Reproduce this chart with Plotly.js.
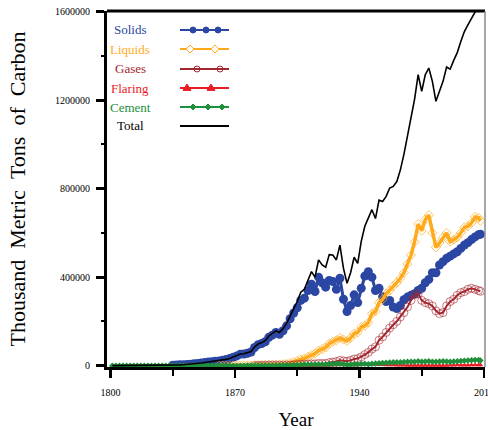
<!DOCTYPE html>
<html>
<head>
<meta charset="utf-8">
<script src="https://cdn.plot.ly/plotly-3.0.1.min.js"></script>
<style>html,body{margin:0;padding:0;background:#fff;}#chart{width:488px;height:430px;}</style>
</head>
<body>
<div id="chart"></div>
<script>
// ---- data (thousand metric tons of carbon) ----
const years = [
1801,1803,1805,1807,1809, 1811,1813,1815,1817,1819, 1821,1823,1825,1827,1829,
1831,1833,1835,1837,1839, 1841,1843,1845,1847,1849, 1851,1853,1855,1857,1859,
1861,1863,1865,1867,1869, 1871,1873,1875,1877,1879, 1881,1883,1885,1887,1889,
1891,1893,1895,1897,1899, 1901,1903,1905,1907,1909, 1911,1913,1915,1917,1919,
1921,1923,1925,1927,1929, 1931,1933,1935,1937,1939, 1941,1943,1945,1947,1949,
1951,1953,1955,1957,1959, 1961,1963,1965,1967,1969, 1971,1973,1975,1977,1979,
1981,1983,1985,1987,1989, 1991,1993,1995,1997,1999, 2001,2003,2005,2007,2008];

const solids = [
null,null,null,null,null, null,null,null,null,null, null,null,null,null,null,
null,null,2400,3000,3700, 4500,5500,6800,8200,10000, 12000,14000,16500,18000,20000,
21000,24000,28000,32000,38000, 44000,52000,53000,56000,62000, 82000,95000,100000,108000,128000,
138000,150000,142000,158000,180000, 212000,238000,262000,295000,305000, 340000,368000,335000,400000,375000,
355000,385000,380000,345000,395000, 300000,245000,272000,320000,285000, 350000,405000,425000,400000,340000,
350000,312000,290000,295000,265000, 258000,272000,298000,310000,318000, 325000,340000,350000,375000,390000,
420000,420000,455000,470000,485000, 495000,505000,515000,530000,545000, 556000,570000,582000,592000,594000];

const liquids = [
null,null,null,null,null, null,null,null,null,null, null,null,null,null,null,
null,null,null,null,null, null,null,null,null,null, null,null,null,null,null,
100,200,300,400,500, 700,900,1100,1300,1600, 2000,2400,2800,3200,3800,
4500,5000,5800,6500,8000, 12000,16000,22000,28000,33000, 40000,48000,55000,68000,75000,
82000,100000,108000,115000,125000, 118000,112000,125000,145000,150000, 175000,180000,195000,235000,245000,
285000,300000,325000,340000,360000, 375000,395000,420000,460000,500000, 560000,640000,610000,660000,680000,
600000,535000,555000,580000,600000, 560000,570000,580000,600000,625000, 630000,645000,672000,668000,655000];

const gases = [
null,null,null,null,null, null,null,null,null,null, null,null,null,null,null,
null,null,null,null,null, null,null,null,null,null, null,null,null,null,null,
null,null,null,null,null, null,null,null,null,null, 500,1000,1500,2000,2500,
2500,2500,2500,2800,3000, 3000,4000,5000,6500,7000, 7500,8000,8500,10000,10000,
10000,14000,16000,19000,24000, 22000,20000,24000,30000,32000, 40000,50000,60000,75000,85000,
115000,130000,150000,170000,185000, 200000,220000,240000,265000,295000, 320000,325000,295000,285000,280000,
270000,248000,235000,240000,270000, 290000,300000,318000,330000,335000, 345000,350000,345000,340000,336000];

const flaring = [
0,0,0,0,0, 0,0,0,0,0, 0,0,0,0,0,
0,0,0,0,0, 0,0,0,0,0, 0,0,0,0,0,
0,0,0,0,0, 0,0,0,0,0, 0,0,0,0,0,
0,0,0,0,0, 200,300,400,500,600, 800,1000,1200,1500,1800,
2000,2500,3000,3500,4000, 3000,2500,3000,3500,3500, 4000,4500,5000,5000,5000,
4500,4000,3500,3000,2500, 2000,1800,1500,1200,1000, 1000,900,700,600,500,
400,400,400,500,600, 1500,2000,2500,2000,2000, 2000,2500,2500,2800,2800];

const cement = [
0,0,0,0,0, 0,0,0,0,0, 0,0,0,0,0,
0,0,0,0,0, 0,0,0,0,0, 0,0,0,0,0,
0,0,0,0,0, 100,150,200,250,300, 400,500,600,700,800,
900,1000,1200,1500,1800, 2200,2800,3500,4200,5000, 5500,5800,5500,5800,5000,
5500,7000,8000,8500,8500, 7000,4500,5000,6000,6500, 8000,9000,6000,8500,10000,
11000,12000,13500,14000,15500, 15000,16000,17000,17500,18000, 17500,20000,18000,19000,20000,
18000,17500,19000,19500,19000, 17500,19000,20500,21500,22500, 23000,24000,25500,26000,23000];

const total = [
200,230,260,290,320, 360,400,450,500,560, 630,720,850,1000,1200,
1500,1900,2400,3000,3700, 4500,5500,6800,8200,10000, 12000,14000,16500,18000,20000,
21100,24200,28300,32400,38500, 44800,53000,54200,57500,63800, 84500,98400,104300,113200,134300,
145000,157500,150300,167300,191000, 228000,258000,290000,332000,345000, 388000,425000,400000,478000,455000,
445000,502000,500000,478000,545000, 440000,372000,420000,490000,462000, 562000,630000,670000,705000,665000,
748000,742000,765000,803000,810000, 832000,885000,955000,1035000,1112000, 1205000,1315000,1240000,1315000,1345000,
1285000,1195000,1240000,1285000,1350000, 1340000,1380000,1415000,1465000,1510000, 1540000,1570000,1598000,1610000,1600000];

const seriesNames = ['Solids','Liquids','Gases','Flaring','Cement','Total'];
const xTicks = [1800, 1870, 1940, 2010];
const yTicks = [0, 400000, 800000, 1200000, 1600000];

// ---- styles ----
const C = {Solids:'#2b47a3', Liquids:'#ffaa1c', Gases:'#a3262e', Flaring:'#ea1c24', Cement:'#1e8f3a', Total:'#000000'};
const SERIF = '"Liberation Serif", "Times New Roman", serif';

const traces = [
  {name:'Solids', x:years, y:solids, mode:'lines+markers',
   line:{color:C.Solids, width:3}, marker:{symbol:'circle', size:9, color:C.Solids}},
  {name:'Liquids', x:years, y:liquids, mode:'lines+markers',
   line:{color:C.Liquids, width:3.5}, marker:{symbol:'diamond-open', size:7, color:'rgba(255,170,28,0.7)', line:{width:1}}},
  {name:'Gases', x:years, y:gases, mode:'lines+markers',
   line:{color:C.Gases, width:2}, marker:{symbol:'circle-open', size:8, color:'rgba(163,38,46,0.6)', line:{width:1}}},
  {name:'Flaring', x:years, y:flaring, mode:'lines+markers',
   line:{color:C.Flaring, width:1.5}, marker:{symbol:'triangle-up', size:5, color:C.Flaring}},
  {name:'Cement', x:years, y:cement, mode:'lines+markers',
   line:{color:C.Cement, width:2}, marker:{symbol:'diamond', size:5, color:C.Cement}},
  {name:'Total', x:years, y:total, mode:'lines',
   line:{color:C.Total, width:1.6}}
];

// ---- manual legend (text first, then sample) ----
const PL = 107, PR = 485, PT = 11, PB = 367;
const px2x = p => (p - PL) / (PR - PL);
const py2y = p => (PB - p) / (PB - PT);
const LEG = [
  {name:'Solids',  py:30,  sym:'cfill', marks:[193,206,218], r:3},
  {name:'Liquids', py:49,  sym:'dopen', marks:[190,215], r:4},
  {name:'Gases',   py:69,  sym:'copen', marks:[197,220], r:3},
  {name:'Flaring', py:88,  sym:'tri',   marks:[187,211], r:4},
  {name:'Cement',  py:107, sym:'dfill', marks:[193,208,222], r:3},
  {name:'Total',   py:126, sym:null,    marks:[], r:0}
];
const shapes = [
  {type:'line', xref:'paper', yref:'paper', x0:0, x1:1, y0:1, y1:1, line:{color:'#000', width:3}},
  {type:'line', xref:'paper', yref:'paper', x0:1, x1:1, y0:0, y1:1, line:{color:'#888', width:1.5}}
];
const annotations = [];
LEG.forEach(L => {
  const col = C[L.name];
  const yy = py2y(L.py);
  annotations.push({xref:'paper', yref:'paper', x:px2x(130), y:yy, text:L.name, showarrow:false,
    xanchor:'center', yanchor:'middle', font:{family:SERIF, size:13, color:col}});
  shapes.push({type:'line', xref:'paper', yref:'paper', x0:px2x(180), x1:px2x(229), y0:yy, y1:yy,
    line:{color:col, width:L.name==='Total'?1.8:2.2}});
  L.marks.forEach(m => {
    const base = {xref:'paper', yref:'paper', xsizemode:'pixel', ysizemode:'pixel', xanchor:px2x(m), yanchor:yy};
    const r = L.r;
    if (L.sym === 'cfill' || L.sym === 'copen') {
      shapes.push(Object.assign({type:'circle', x0:-r, x1:r, y0:-r, y1:r,
        fillcolor: L.sym==='cfill'?col:'rgba(0,0,0,0)', line:{color:col, width:1}}, base));
    } else if (L.sym === 'dopen' || L.sym === 'dfill') {
      shapes.push(Object.assign({type:'path', path:`M 0,${-r} L ${r},0 L 0,${r} L ${-r},0 Z`,
        fillcolor: L.sym==='dfill'?col:'rgba(255,255,255,1)', line:{color:col, width:1}}, base));
    } else if (L.sym === 'tri') {
      shapes.push(Object.assign({type:'path', path:`M ${-r},${-r*0.6} L ${r},${-r*0.6} L 0,${r} Z`,
        fillcolor: col, line:{color:col, width:1}}, base));
    }
  });
});

const layout = {
  width:488, height:430,
  margin:{l:PL, r:488-PR, t:PT, b:430-PB, pad:0},
  paper_bgcolor:'#fff', plot_bgcolor:'#fff',
  showlegend:false,
  font:{family:SERIF, color:'#000'},
  xaxis:{
    range:[1798, 2010.6], tickmode:'array', tickvals:xTicks, ticktext:xTicks.map(String),
    ticks:'outside', ticklen:8, tickwidth:2.5, tickcolor:'#000', ticklabelstandoff:6,
    ticklabeloverflow:'allow',
    minor:{tickmode:'array', tickvals:[1835,1905,1975], ticks:'outside', ticklen:6, tickwidth:2, tickcolor:'#000'},
    showline:true, linecolor:'#000', linewidth:3, showgrid:false, zeroline:false,
    tickfont:{family:SERIF, size:10, color:'#000'},
    title:{text:'Year', font:{family:SERIF, size:19, color:'#000'}, standoff:16}
  },
  yaxis:{
    range:[-6000, 1603000], tickmode:'array', tickvals:yTicks, ticktext:yTicks.map(String),
    ticks:'outside', ticklen:8, tickwidth:3, tickcolor:'#000', ticklabelstandoff:4,
    minor:{tickmode:'array', tickvals:[200000,600000,1000000,1400000], ticks:'outside', ticklen:3, tickwidth:2, tickcolor:'#000'},
    showline:true, linecolor:'#000', linewidth:3, showgrid:false, zeroline:false,
    tickfont:{family:SERIF, size:10, color:'#000'},
    title:{text:'Thousand\u00a0\u00a0Metric\u00a0\u00a0Tons\u00a0\u00a0of\u00a0\u00a0Carbon', font:{family:SERIF, size:22, color:'#000'}, standoff:24}
  },
  shapes:shapes,
  annotations:annotations
};

Plotly.newPlot('chart', traces, layout, {staticPlot:true, displayModeBar:false});
</script>
</body>
</html>
